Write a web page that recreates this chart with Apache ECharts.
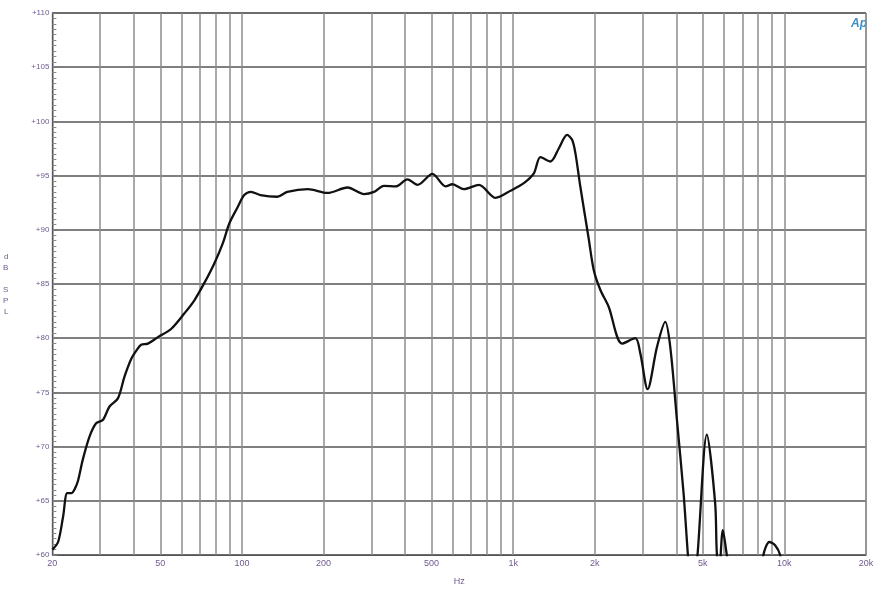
<!DOCTYPE html>
<html>
<head>
<meta charset="utf-8">
<script src="https://cdn.jsdelivr.net/npm/echarts@6/dist/echarts.min.js"></script>
<style>html,body{margin:0;padding:0;background:#fff}#c{width:885px;height:600px}</style>
</head>
<body>
<div id="c"></div>
<script>
const freqHz = [20, 21.0, 21.9, 22.7, 23.5, 24.2, 24.9, 25.9, 27.4, 29.0, 30.7, 32.5, 34.9, 36.9, 39.1, 40.8, 42.5, 45.0, 49.0, 54.8, 61.4, 66.8, 72.7, 79.1, 85.0, 89.9, 96.5, 102, 108, 117, 135, 147, 175, 207, 245, 282, 307, 334, 369, 408, 444, 504, 564, 597, 659, 748, 862, 978, 1095, 1192, 1261, 1373, 1473, 1581, 1650, 1697, 1770, 1899, 1982, 2098, 2250, 2522, 2822, 2944, 3132, 3392, 3638, 3796, 4018, 4250, 4410, 4572, 4784, 5180, 5556, 5636, 5748, 5932, 6136, 7166, 8370, 8808, 9244, 9644, 10500, 20000];
const splDb = [60.5, 61.2, 63.5, 65.7, 65.7, 66.1, 66.9, 68.8, 70.9, 72.15, 72.45, 73.7, 74.45, 76.45, 78.1, 78.85, 79.4, 79.5, 80.1, 80.85, 82.3, 83.5, 85.1, 86.9, 88.75, 90.6, 92.1, 93.2, 93.5, 93.2, 93.05, 93.5, 93.75, 93.4, 93.9, 93.3, 93.5, 94.05, 94.0, 94.65, 94.15, 95.15, 94.0, 94.2, 93.75, 94.15, 92.95, 93.6, 94.3, 95.2, 96.7, 96.3, 97.5, 98.75, 98.3, 97.05, 93.95, 89.2, 86.3, 84.45, 82.9, 79.5, 80.0, 78.6, 75.3, 79.2, 81.5, 79.2, 72.45, 65.7, 60.0, 55.5, 60.0, 71.1, 64.8, 60.2, 58.5, 62.3, 60.0, 50, 60.0, 61.2, 60.9, 60.0, 55, 45];
const xGridHz = [20, 30, 40, 50, 60, 70, 80, 90, 100, 200, 300, 400, 500, 600, 700, 800, 900, 1000, 2000, 3000, 4000, 5000, 6000, 7000, 8000, 9000, 10000, 20000];
const xLabelHz = [20, 50, 100, 200, 500, 1000, 2000, 5000, 10000, 20000];
const yTicks = [60, 65, 70, 75, 80, 85, 90, 95, 100, 105, 110];

const chart = echarts.init(document.getElementById('c'), null, {renderer: 'canvas'});
const labelColor = '#6f5a8e';
chart.setOption({
  animation: false,
  backgroundColor: '#fff',
  grid: {left: 51, right: 19, top: 13, bottom: 45, show: true, borderColor: '#666', borderWidth: 1},
  xAxis: {
    type: 'log', logBase: 10, min: 20, max: 20000,
    name: 'Hz', nameLocation: 'middle', nameGap: 22,
    nameTextStyle: {color: labelColor, fontSize: 9, fontFamily: 'Liberation Sans'},
    axisLine: {show: true, lineStyle: {color: '#555', width: 1}},
    axisTick: {show: false, customValues: xGridHz},
    axisLabel: {customValues: xLabelHz, color: labelColor, fontSize: 9, fontFamily: 'Liberation Sans', margin: 4,
      formatter: v => v >= 1000 ? (v / 1000) + 'k' : String(v)},
    splitLine: {show: true, lineStyle: {color: '#8c8c8c', width: 1.5}},
    minorSplitLine: {show: false}
  },
  yAxis: {
    type: 'value', min: 60, max: 110, interval: 5,
    name: 'd\nB\n\nS\nP\nL', nameLocation: 'middle', nameRotate: 0, nameGap: 44,
    nameTextStyle: {color: labelColor, fontSize: 8, lineHeight: 11, fontFamily: 'Liberation Sans'},
    axisLine: {show: true, lineStyle: {color: '#555', width: 1}},
    axisTick: {show: true, inside: true, length: 5, lineStyle: {color: '#777'}},
    minorTick: {show: true, splitNumber: 10, length: 4, lineStyle: {color: '#888'}},
    axisLabel: {color: labelColor, fontSize: 8, fontFamily: 'Liberation Sans', margin: 3,
      formatter: v => '+' + v},
    splitLine: {show: true, lineStyle: {color: '#555', width: 1.5}}
  },
  graphic: [{
    type: 'text', right: 18, top: 18,
    style: {text: 'Ap', font: 'italic bold 12px Liberation Sans', fill: '#3d8fc6'}
  }],
  series: [{
    type: 'line', data: freqHz.map((f, i) => [f, splDb[i]]),
    smooth: 0.3, showSymbol: false, clip: true,
    lineStyle: {color: '#111', width: 2.3}
  }]
});
</script>
</body>
</html>
